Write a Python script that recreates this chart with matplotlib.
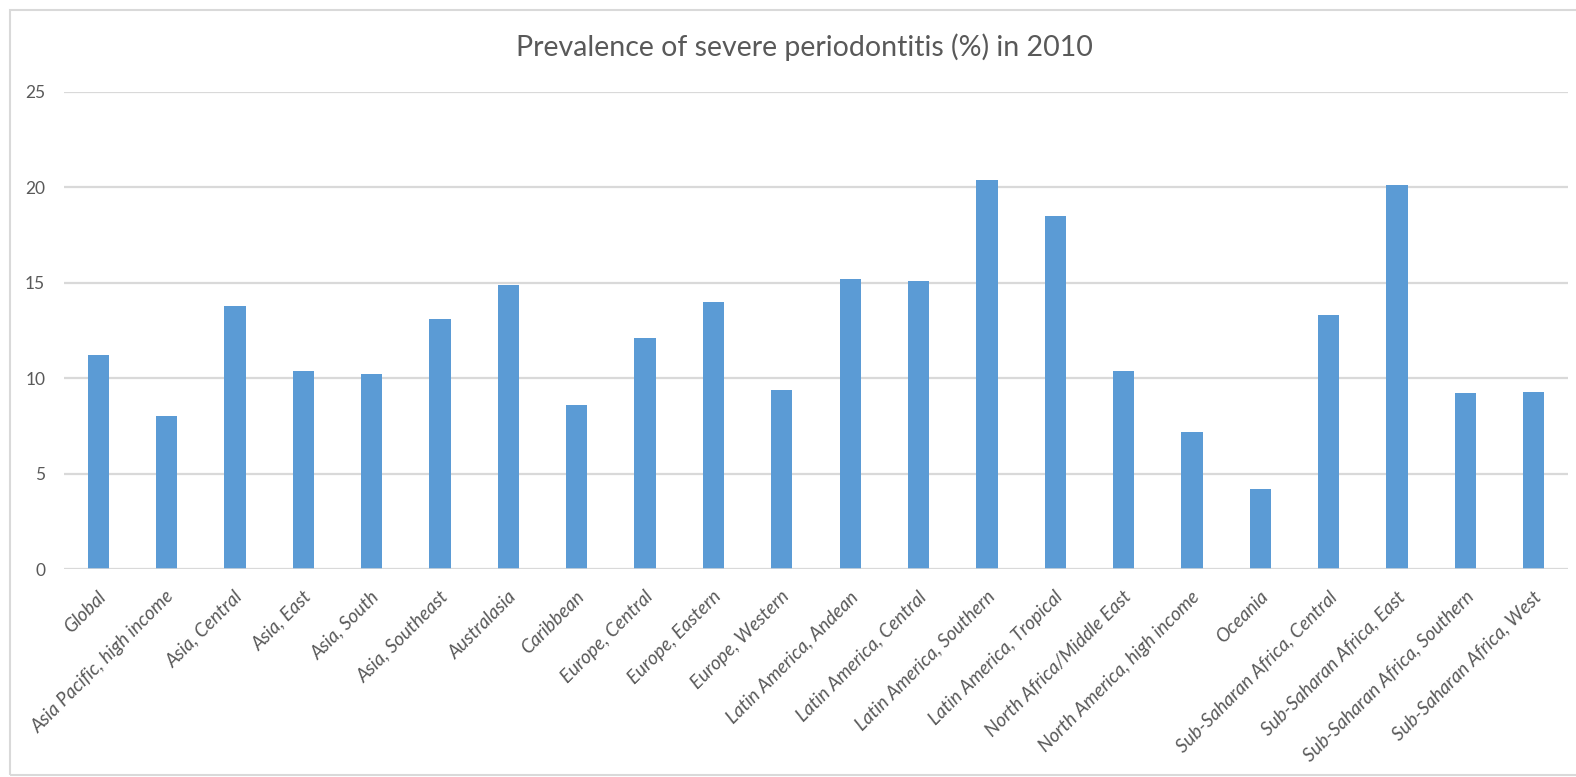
import matplotlib

matplotlib.use("Agg")
import matplotlib.pyplot as plt
import matplotlib.transforms as mtransforms
from matplotlib.patches import Rectangle
import numpy as np

regions = [
    "Global", "Asia Pacific, high income", "Asia, Central", "Asia, East",
    "Asia, South", "Asia, Southeast", "Australasia", "Caribbean",
    "Europe, Central", "Europe, Eastern", "Europe, Western",
    "Latin America, Andean", "Latin America, Central", "Latin America, Southern",
    "Latin America, Tropical", "North Africa/Middle East",
    "North America, high income", "Oceania", "Sub-Saharan Africa, Central",
    "Sub-Saharan Africa, East", "Sub-Saharan Africa, Southern",
    "Sub-Saharan Africa, West",
]
prevalence = [
    11.2, 8.0, 13.8, 10.4, 10.2, 13.1, 14.9, 8.6, 12.1, 14.0, 9.4,
    15.2, 15.1, 20.4, 18.5, 10.4, 7.2, 4.2, 13.3, 20.1, 9.2, 9.3,
]
y_ticks = [0, 5, 10, 15, 20, 25]

plt.rcParams["font.family"] = ["Lato", "DejaVu Sans"]
TEXT_COLOR = "#595959"
GRID_COLOR = "#d9d9d9"
BAR_COLOR = "#5b9bd5"

W, H = 1576, 777
fig = plt.figure(figsize=(W / 100, H / 100), dpi=100)
ax = fig.add_axes([64 / W, 1 - 569 / H, (1568 - 64) / W, (569 - 92) / H])

x = np.arange(len(regions))
ax.bar(x, prevalence, width=0.31, color=BAR_COLOR, zorder=3)

ax.set_xlim(-0.5, len(regions) - 0.5)
ax.set_ylim(0, 25)
ax.set_yticks(y_ticks)
ax.set_yticklabels([str(t) for t in y_ticks])
ax.yaxis.grid(True, color=GRID_COLOR, linewidth=1.6, zorder=0)
ax.axhline(0, color=GRID_COLOR, linewidth=1.8, zorder=4)
for side in ax.spines.values():
    side.set_visible(False)
ax.tick_params(axis="both", length=0, colors=TEXT_COLOR, labelsize=12.5)
ax.tick_params(axis="y", pad=13.5)

ax.set_xticks(x)
ax.set_xticklabels(regions, rotation=45, ha="right", va="top",
                   rotation_mode="anchor", style="italic", fontsize=13.6)
# nudge the slanted labels so they end just under each bar
shift = mtransforms.ScaledTranslation(-1 / 100, -14 / 100, fig.dpi_scale_trans)
for lbl in ax.get_xticklabels():
    lbl.set_transform(lbl.get_transform() + shift)

fig.text(804 / W, 1 - 47 / H, "Prevalence of severe periodontitis (%) in 2010",
         ha="center", va="center", fontsize=20.5, color=TEXT_COLOR)

# light chart-area border like the spreadsheet export
fig.patches.append(Rectangle((10 / W, 2 / H), 1.0, 1 - 12 / H,
                             transform=fig.transFigure, fill=False,
                             edgecolor=GRID_COLOR, linewidth=1.5))

fig.savefig("out.png", dpi=100)
